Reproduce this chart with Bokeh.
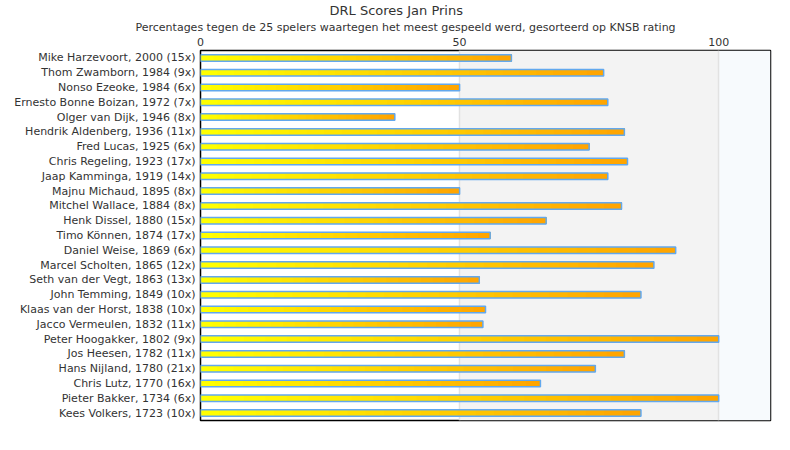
from bokeh.plotting import figure
from bokeh.models import FactorRange, Range1d, Title, BoxAnnotation, FixedTicker
from bokeh.embed import file_html
from bokeh.resources import INLINE

players = [
    "Mike Harzevoort, 2000 (15x)", "Thom Zwamborn, 1984 (9x)", "Nonso Ezeoke, 1984 (6x)",
    "Ernesto Bonne Boizan, 1972 (7x)", "Olger van Dijk, 1946 (8x)", "Hendrik Aldenberg, 1936 (11x)",
    "Fred Lucas, 1925 (6x)", "Chris Regeling, 1923 (17x)", "Jaap Kamminga, 1919 (14x)",
    "Majnu Michaud, 1895 (8x)", "Mitchel Wallace, 1884 (8x)", "Henk Dissel, 1880 (15x)",
    "Timo Können, 1874 (17x)", "Daniel Weise, 1869 (6x)", "Marcel Scholten, 1865 (12x)",
    "Seth van der Vegt, 1863 (13x)", "John Temming, 1849 (10x)", "Klaas van der Horst, 1838 (10x)",
    "Jacco Vermeulen, 1832 (11x)", "Peter Hoogakker, 1802 (9x)", "Jos Heesen, 1782 (11x)",
    "Hans Nijland, 1780 (21x)", "Chris Lutz, 1770 (16x)", "Pieter Bakker, 1734 (6x)",
    "Kees Volkers, 1723 (10x)",
]
scores = [60.0, 77.8, 50.0, 78.6, 37.5, 81.8, 75.0, 82.4, 78.6, 50.0, 81.25, 66.7, 55.9,
          91.7, 87.5, 53.8, 85.0, 55.0, 54.5, 100.0, 81.8, 76.2, 65.6, 100.0, 85.0]
x_ticks = [0, 50, 100]

FONT = "DejaVu Sans"
TXT = "#333333"

p = figure(width=782, height=442, output_backend="svg", toolbar_location=None,
           x_range=Range1d(0, 110), y_range=FactorRange(factors=players[::-1], range_padding=0),
           x_axis_location="above")
p.min_border_left = 200
p.min_border_right = 12
p.min_border_bottom = 22
p.min_border_top = 0

# background bands
p.add_layout(BoxAnnotation(left=50, right=100, fill_color="#f3f3f3", fill_alpha=1, line_color=None, level="image"))
p.add_layout(BoxAnnotation(left=100, fill_color="#f7fafd", fill_alpha=1, line_color=None, level="image"))

# gradient bars (yellow -> orange along each bar)
N = 24
c0 = (255, 255, 0)
c1 = (255, 165, 0)
ys, lefts, rights, colors = [], [], [], []
for i in range(N):
    t = i / (N - 1)
    col = "#%02x%02x%02x" % tuple(int(round(a + (b - a) * t)) for a, b in zip(c0, c1))
    for name, v in zip(players, scores):
        ys.append(name)
        lefts.append(v * i / N)
        rights.append(v)
        colors.append(col)
p.hbar(y=ys, left=lefts, right=rights, height=0.44, fill_color=colors, line_color=None)
p.hbar(y=players, left=0, right=scores, height=0.44, fill_color=None,
       line_color="#62a8ee", line_width=1.5)

# axes
xa = p.xaxis[0]
xa.ticker = FixedTicker(ticks=x_ticks)
xa.major_tick_out = 0
xa.major_tick_in = 0
xa.minor_tick_out = 0
xa.minor_tick_in = 0
xa.axis_line_color = None
xa.major_label_standoff = 5
xa.major_label_text_font = FONT
xa.major_label_text_font_size = "11px"
xa.major_label_text_color = TXT

ya = p.yaxis[0]
ya.major_tick_out = 0
ya.major_tick_in = 0
ya.axis_line_color = None
ya.major_label_standoff = 5
ya.major_label_text_font = FONT
ya.major_label_text_font_size = "11px"
ya.major_label_text_color = TXT

p.xgrid.ticker = FixedTicker(ticks=[50, 100])
p.xgrid.grid_line_color = "#e2e2e2"
p.xgrid.grid_line_width = 1.5
p.ygrid.grid_line_color = None

p.outline_line_color = "black"
p.outline_line_width = 1.5
p.outline_line_alpha = 1

sub = Title(text="Percentages tegen de 25 spelers waartegen het meest gespeeld werd, gesorteerd op KNSB rating",
            align="left", offset=-65, text_font=FONT, text_font_size="11px", text_font_style="normal",
            text_color=TXT, standoff=2)
main = Title(text="DRL Scores Jan Prins", align="left", offset=129, text_font=FONT,
             text_font_size="13px", text_font_style="normal", text_color=TXT, standoff=0)
p.add_layout(sub, "above")
p.add_layout(main, "above")

open("out.html", "w").write(file_html(p, INLINE))
